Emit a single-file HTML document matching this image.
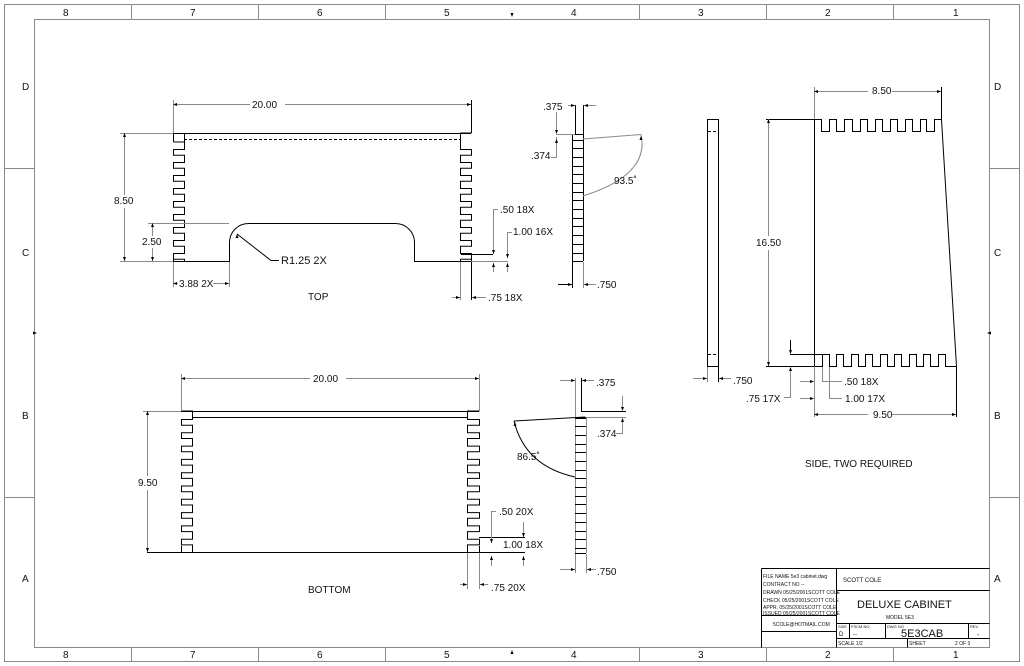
<!DOCTYPE html>
<html><head><meta charset="utf-8"><style>
html,body{margin:0;padding:0;background:#fff;width:1024px;height:666px;overflow:hidden}
svg{display:block}
text{font-family:"Liberation Sans",sans-serif;font-size:10px;fill:#111}
.k{stroke:#000;stroke-width:1;fill:none}
.g{stroke:#8a8a8a;stroke-width:1;fill:none}
.d{stroke:#000;stroke-width:1;fill:none;stroke-dasharray:3,2}
</style></head><body>
<svg id="s" width="1024" height="666" viewBox="0 0 1024 666" xmlns="http://www.w3.org/2000/svg">
<rect x="4.5" y="4.5" width="1015" height="657" class="g"/>
<rect x="34.5" y="19.5" width="955" height="628" class="g"/>
<g id="gen"></g>
<!-- border labels -->
<text x="63" y="16">8</text><text x="190" y="16">7</text><text x="317" y="16">6</text><text x="444" y="16">5</text>
<text x="571" y="16">4</text><text x="698" y="16">3</text><text x="825" y="16">2</text><text x="953" y="16">1</text>
<text x="63" y="658">8</text><text x="190" y="658">7</text><text x="317" y="658">6</text><text x="444" y="658">5</text>
<text x="571" y="658">4</text><text x="698" y="658">3</text><text x="825" y="658">2</text><text x="953" y="658">1</text>
<text x="22" y="90">D</text><text x="22" y="256">C</text><text x="22" y="419">B</text><text x="22" y="582">A</text>
<text x="994" y="90">D</text><text x="994" y="256">C</text><text x="994" y="419">B</text><text x="994" y="582">A</text>

<!-- TOP view texts -->
<text x="252" y="108" style="font-size:10px">20.00</text>
<text x="114" y="204">8.50</text>
<text x="142" y="245">2.50</text>
<text x="281" y="264" style="font-size:11px">R1.25  2X</text>
<text x="179" y="287">3.88  2X</text>
<text x="308" y="300">TOP</text>
<text x="500" y="213">.50  18X</text>
<text x="513" y="235">1.00  16X</text>
<text x="488" y="301">.75  18X</text>
<text x="543" y="110">.375</text>
<text x="531" y="159">.374</text>
<text x="614" y="184">93.5˚</text>
<text x="597" y="288">.750</text>

<!-- BOTTOM view texts -->
<text x="313" y="382">20.00</text>
<text x="138" y="486">9.50</text>
<text x="499" y="515">.50  20X</text>
<text x="503" y="548">1.00  18X</text>
<text x="491" y="591">.75  20X</text>
<text x="308" y="593">BOTTOM</text>
<text x="596" y="386">.375</text>
<text x="597" y="437">.374</text>
<text x="517" y="460">86.5˚</text>
<text x="597" y="575">.750</text>

<!-- SIDE texts -->
<text x="872" y="94">8.50</text>
<text x="756" y="246">16.50</text>
<text x="733" y="384">.750</text>
<text x="844" y="385">.50  18X</text>
<text x="845" y="402">1.00  17X</text>
<text x="746" y="402">.75  17X</text>
<text x="873" y="418">9.50</text>
<text x="805" y="467">SIDE, TWO REQUIRED</text>

<!-- title block -->
<g class="k">
<path d="M761.5 568.5H989.5M836.5 568.5V647.5M836.5 590.5H989.5M761.5 615.5H836.5M761.5 631.5H836.5M836.5 623.5H989.5M836.5 638.5H989.5M849.5 623.5V638.5M885.5 623.5V638.5M968.5 623.5V638.5M907.5 638.5V647.5M761.5 568.5V647.5"/>
</g>
<text x="763" y="578" style="font-size:5px">FILE NAME 5e3 cabinet.dwg</text>
<text x="763" y="586" style="font-size:5px">CONTRACT NO  --</text>
<text x="763" y="594" style="font-size:5px">DRAWN 05/25/2001SCOTT  COLE</text>
<text x="763" y="602" style="font-size:5px">CHECK 05/25/2001SCOTT  COLE</text>
<text x="763" y="609" style="font-size:5px">APPR. 05/25/2001SCOTT  COLE</text>
<text x="763" y="615" style="font-size:5px">ISSUED 05/25/2001SCOTT  COLE</text>
<text x="773" y="626" style="font-size:5px">5COLE@HOTMAIL.COM</text>
<text x="843" y="582" style="font-size:6px">SCOTT COLE</text>
<text x="857" y="608" style="font-size:11px">DELUXE  CABINET</text>
<text x="886" y="619" style="font-size:5px">MODEL 5E3</text>
<text x="838" y="628" style="font-size:4px">SIZE</text><text x="839" y="636" style="font-size:6px">D</text>
<text x="851" y="628" style="font-size:4px">FSCM NO</text><text x="853" y="636" style="font-size:6px">--</text>
<text x="887" y="628" style="font-size:4px">DWG NO</text><text x="901" y="637" style="font-size:11px">5E3CAB</text>
<text x="970" y="628" style="font-size:4px">REV</text><text x="977" y="637" style="font-size:7px">-</text>
<text x="838" y="645" style="font-size:5px">SCALE  1/2</text>
<text x="909" y="645" style="font-size:5px">SHEET</text>
<text x="955" y="645" style="font-size:5px">2 OF 3</text>
</svg>
<script>
var g=document.getElementById('gen'),NS='http://www.w3.org/2000/svg';
function P(d,c){var e=document.createElementNS(NS,'path');e.setAttribute('d',d);e.setAttribute('class',c||'k');g.appendChild(e);}
function L(a,b,c,d,k){P('M'+a+' '+b+'L'+c+' '+d,k);}
function A(x,y,dir){ // arrowhead small
 var s=4,w=1.5,d;
 if(dir=='r')d='M'+x+' '+y+'l-'+s+' -'+w+'v'+(2*w)+'z';
 if(dir=='l')d='M'+x+' '+y+'l'+s+' -'+w+'v'+(2*w)+'z';
 if(dir=='u')d='M'+x+' '+y+'l-'+w+' '+s+'h'+(2*w)+'z';
 if(dir=='d')d='M'+x+' '+y+'l-'+w+' -'+s+'h'+(2*w)+'z';
 var e=document.createElementNS(NS,'path');e.setAttribute('d',d);e.setAttribute('fill','#000');g.appendChild(e);}
// border ticks
[131,258,385,639,766,893].forEach(function(x){L(x+.5,4,x+.5,19,'g');L(x+.5,647,x+.5,662,'g');});
[168,497].forEach(function(y){L(4,y+.5,34,y+.5,'g');L(990,y+.5,1019,y+.5,'g');});
A(512,17,'d');A(512,650,'u');A(37,333,'r');A(987,333,'l');
// finger profile generator (vertical side)
function side(xo,xi,y0,yTop,first,n,pitch,h,yEnd){
 var d='M'+xo+' '+y0+'H'+xi+'V'+yTop;
 for(var k=0;k<n;k++){var t=first+k*pitch;d+='V'+t+'H'+xo+'V'+(t+h)+'H'+xi;}
 d+='V'+yEnd;P(d);}
// TOP view
L(173,133.5,471,133.5);L(173.5,133,173.5,142);
side(173.5,184.5,142,142,149.5,9,13,5.7,261);
L(173.5,253,173.5,261.5);
side(471.5,460.5,133,142,149.5,9,13,5.7,261);
L(471.5,253,471.5,261.5);
L(184,139.5,461,139.5,'d');L(184.5,133,184.5,142);
P('M173 261.5H229.5V242A19 19 0 0 1 248.5 223.5H395A19 19 0 0 1 414.5 242V261.5H471');
// top dims
L(173.5,100,173.5,133,'g');L(471.5,100,471.5,133);L(173,104.5,250,104.5,'g');L(285,104.5,471,104.5,'g');A(173,104.5,'l');A(471,104.5,'r');
L(120,133.5,173,133.5,'g');L(120,261.5,173,261.5,'g');L(124.5,133,124.5,195,'g');L(124.5,208,124.5,261,'g');A(124.5,133,'u');A(124.5,261,'d');
L(148,223.5,229,223.5,'g');L(152.5,223,152.5,236,'g');L(152.5,248,152.5,261,'g');A(152.5,223,'u');A(152.5,261,'d');
P('M237 234L271 260.5H279','k');A(237,234,'u');
L(173.5,262,173.5,287,'g');L(229.5,262,229.5,287,'g');L(173,283.5,178,283.5,'g');L(213,283.5,229,283.5,'g');A(173,283.5,'l');A(229,283.5,'r');
L(461,254.5,493,254.5);L(471,261.5,508,261.5,'g');
P('M493.5 254V209.5H498','g');P('M507.5 258V232.5H512','g');A(493.5,254,'d');A(507.5,258,'d');
L(493.5,263,493.5,272,'g');L(507.5,263,507.5,272,'g');A(493.5,263,'u');A(507.5,263,'u');
L(460.5,262,460.5,300,'g');L(471.5,262,471.5,300);L(452,297.5,460,297.5,'g');L(472,297.5,486,297.5,'g');A(460,297.5,'r');A(472,297.5,'l');
// top-middle section
P('M572.5 261V134.5H575.5M583.5 139V261','k');P('M575.5 134V105M583.5 139V105','k');L(575.5,134.5,583.5,134.5);
for(var y=139.5;y<262;y+=8.7){L(572,Math.round(y)+.5,583,Math.round(y)+.5);}
L(572,261.5,583,261.5);
L(568,105.5,575,105.5,'g');L(584,105.5,596,105.5,'g');A(575,105.5,'r');A(584,105.5,'l');
L(556,134.5,575,134.5,'g');P('M556.5 137V157.5H551','g');A(556.5,139,'u');L(556.5,112,556.5,130,'g');A(556.5,134,'d');
L(583,139,641,134.5,'g');P('M641 134.5Q650 175 583 196','g');A(641,136,'u');
L(572.5,262,572.5,288);L(583.5,262,583.5,288,'g');L(558,284.5,572,284.5);L(584,284.5,596,284.5,'g');A(572,284.5,'r');A(584,284.5,'l');
// BOTTOM view
L(181,411.5,479,411.5);L(192,417.5,468,417.5);L(192.5,411,192.5,418);L(467.5,411,467.5,418);
side(181.5,192.5,411,417,419.5,10,13.3,5.7,547);P('M192.5 547V552.5H181.5V546');
side(479.5,467.5,411,417,419.5,10,13.3,5.7,547);P('M467.5 547V552.5H479.5V546');
L(147,552.5,525,552.5);
L(181.5,374,181.5,411,'g');L(479.5,374,479.5,411,'g');L(181,378.5,310,378.5,'g');L(346,378.5,479,378.5,'g');A(181,378.5,'l');A(479,378.5,'r');
L(143,411.5,181,411.5,'g');L(147.5,411,147.5,476,'g');L(147.5,490,147.5,552,'g');A(147.5,411,'u');A(147.5,552,'d');
L(479,537.5,525,537.5);P('M491.5 543V511.5H496','g');A(491.5,543,'d');
L(523.5,522,523.5,537,'g');A(523.5,537,'d');L(491.5,556,491.5,566,'g');L(523.5,556,523.5,566,'g');A(491.5,556,'u');A(523.5,556,'u');
L(467.5,553,467.5,589,'g');L(479.5,553,479.5,589,'g');L(460,584.5,467,584.5,'g');L(480,584.5,488,584.5,'g');A(467,584.5,'r');A(480,584.5,'l');
// bottom-middle section
P('M575.5 553V378M586.5 417V553','g');P('M581.5 378V411.5H626','k');L(586,417.5,626,417.5,'g');L(575,417.5,586,417.5);
for(var y=417.5;y<553;y+=8.7){L(575,Math.round(y)+.5,586,Math.round(y)+.5);}
L(575,553.5,586,553.5);
L(560,380.5,575,380.5,'g');L(582,380.5,594,380.5,'g');A(575,380.5,'r');A(582,380.5,'l');
L(622.5,396,622.5,410,'g');A(622.5,411,'d');P('M622.5 419V433.5H616','g');A(622.5,418,'u');
L(585,417,514,421,'k');P('M514 421Q525 466 575 477','k');A(515,422,'u');
L(575.5,554,575.5,573,'g');L(586.5,554,586.5,573,'g');L(560,569.5,575,569.5,'g');L(587,569.5,596,569.5,'g');A(575,569.5,'r');A(587,569.5,'l');
// SIDE view strip
P('M707.5 119.5H718.5V366.5H707.5Z');L(708,131.5,718,131.5,'d');L(708,354.5,718,354.5,'d');
L(707.5,367,707.5,382,'g');L(718.5,367,718.5,382);L(693,378.5,707,378.5,'g');L(719,378.5,731,378.5,'g');A(707,378.5,'r');A(719,378.5,'l');
// big panel
var d='M814.5 366.5V119.5';var xs=[821,836,852,867,882,897,912,926];
xs.forEach(function(x){d+='H'+(x+.5)+'V131.5H'+(x+8.5)+'V119.5';});d+='H941.5L956.5 366.5';
var xb=[822,836,851,865,880,894,909,923,938];xb.forEach(function(x){});
P(d);
var d2='M814.5 366.5';xb.forEach(function(x){d2+='H'+(x+.5)+'V354.5H'+(x+7.5)+'V366.5';});d2+='H956.5';P(d2);
L(766,119.5,814,119.5);L(766,366.5,814,366.5);L(768.5,119,768.5,236,'g');L(768.5,250,768.5,366,'g');A(768.5,119,'u');A(768.5,366,'d');
L(814.5,87,814.5,119,'g');L(941.5,87,941.5,119);L(814,91.5,868,91.5,'g');L(892,91.5,941,91.5,'g');A(814,91.5,'l');A(941,91.5,'r');
L(790,354.5,822,354.5);L(790.5,340,790.5,353,'k');A(790.5,354,'d');P('M790.5 368V397.5H784','g');A(790.5,367,'u');
L(814.5,367,814.5,417,'g');L(956.5,367,956.5,417);L(814,414.5,868,414.5,'g');L(892,414.5,956,414.5,'g');A(814,414.5,'l');A(956,414.5,'r');
P('M822.5 367V381.5H842','g');P('M829.5 367V398.5H842','g');L(800,381.5,813,381.5,'g');A(814,381.5,'r');L(800,398.5,813,398.5,'g');A(814,398.5,'r');
</script>
</body></html>
